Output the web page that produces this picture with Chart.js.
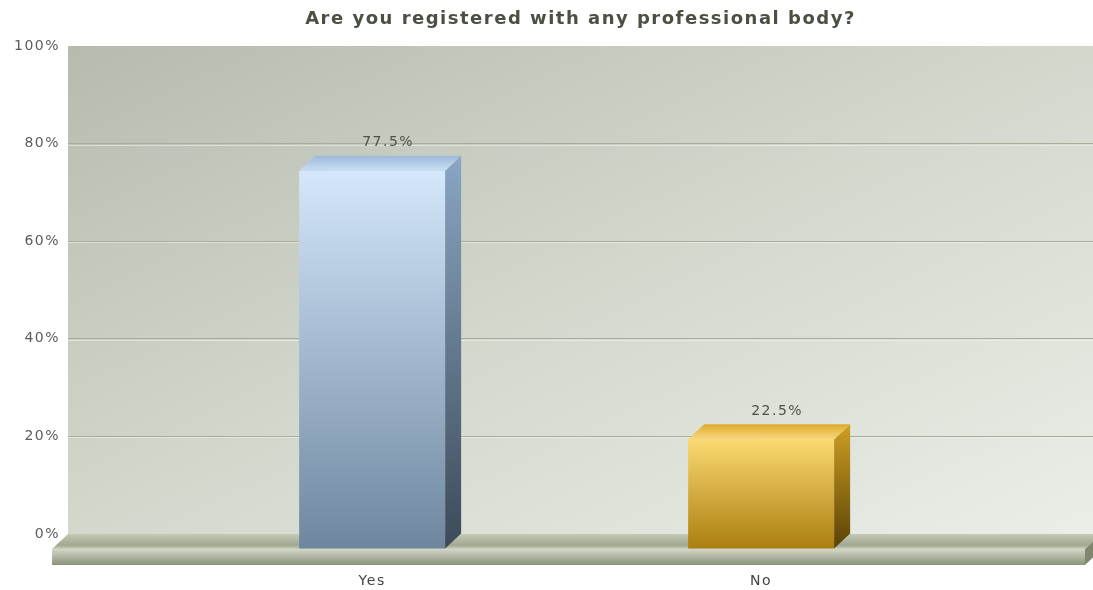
<!DOCTYPE html>
<html>
<head>
<meta charset="utf-8">
<script src="https://cdn.jsdelivr.net/npm/chart.js@4"></script>
<style>
  html, body { margin: 0; background: #fff; }
  #wrap { width: 1093px; height: 590px; }
</style>
</head>
<body>
<div id="wrap"><canvas id="chart"></canvas></div>
<script>
const categories = ["Yes", "No"];
const percentages = [77.5, 22.5];
const yTicks = [0, 20, 40, 60, 80, 100];

// depth of the extruded bars and floor, in pixels
const DX = 16;
const DY = 15;
const FLOOR_H = 16;
const FONT = "DejaVu Sans";

const barStyles = [
  { front: ["#d4e7fb", "#6e879f"], side: ["#8aa6c3", "#3c4a58"], top: ["#9dbadb", "#c9def4"] },
  { front: ["#fbd972", "#ab7e0f"], side: ["#cf9f24", "#5a4205"], top: ["#dfab2c", "#f8d67e"] },
];

function vGrad(ctx, y0, y1, c0, c1) {
  const g = ctx.createLinearGradient(0, y0, 0, y1);
  g.addColorStop(0, c0);
  g.addColorStop(1, c1);
  return g;
}

function poly(ctx, pts, fill) {
  ctx.beginPath();
  ctx.moveTo(pts[0][0], pts[0][1]);
  for (let i = 1; i < pts.length; i++) ctx.lineTo(pts[i][0], pts[i][1]);
  ctx.closePath();
  ctx.fillStyle = fill;
  ctx.fill();
}

const bars3d = {
  id: "bars3d",
  beforeDraw(chart) {
    const { ctx, chartArea: a } = chart;
    ctx.letterSpacing = "1.5px";
    const w = a.right - a.left, h = a.bottom - a.top;
    const s = (2 * w * h) / (w * w + h * h);
    const g = ctx.createLinearGradient(a.left, a.top, a.left + h * s, a.top + w * s);
    g.addColorStop(0, "#b7bbaf");
    g.addColorStop(0.5, "#d3d8cd");
    g.addColorStop(1, "#eaeee7");
    ctx.save();
    ctx.fillStyle = g;
    ctx.fillRect(a.left, a.top, w, h);
    ctx.restore();
  },
  beforeDatasetsDraw(chart) {
    const { ctx, chartArea: a } = chart;
    const yScale = chart.scales.y;
    const B = yScale.getPixelForValue(0);
    const L = a.left, R = a.right + 8;
    ctx.save();
    // faint highlight under each grid line
    ctx.fillStyle = "rgba(240,243,236,0.6)";
    yTicks.slice(1, -1).forEach((v) => {
      ctx.fillRect(L, Math.round(yScale.getPixelForValue(v)) + 1, a.right - L, 1);
    });
    const top = ctx.createLinearGradient(0, B, 0, B + DY);
    top.addColorStop(0, "#c4c9b8");
    top.addColorStop(0.75, "#a1a890");
    top.addColorStop(1, "#cdd2c1");
    poly(ctx, [[L, B], [R, B], [R - DX, B + DY], [L - DX, B + DY]], top);
    ctx.fillStyle = vGrad(ctx, B + DY, B + DY + FLOOR_H, "#d2d7c7", "#8a927a");
    ctx.fillRect(L - DX, B + DY, R - L, FLOOR_H);
    poly(ctx, [[R - DX, B + DY], [R, B], [R, B + FLOOR_H], [R - DX, B + DY + FLOOR_H]], "#7f876f");
    ctx.restore();
  },
  afterDatasetsDraw(chart) {
    const { ctx } = chart;
    const meta = chart.getDatasetMeta(0);
    ctx.save();
    meta.data.forEach((el, i) => {
      const { x, y, base, width } = el.getProps(["x", "y", "base", "width"], true);
      const st = barStyles[i];
      const bl = x - width / 2, br = x + width / 2;
      const fl = bl - DX, fr = br - DX, ft = y + DY, fb = base + DY;
      ctx.fillStyle = vGrad(ctx, ft, fb, st.front[0], st.front[1]);
      ctx.fillRect(fl, ft, fr - fl, fb - ft);
      poly(ctx, [[fr, ft], [br, y], [br, base], [fr, fb]], vGrad(ctx, y, fb, st.side[0], st.side[1]));
      poly(ctx, [[fl, ft], [fr, ft], [br, y], [bl, y]], vGrad(ctx, y, ft, st.top[0], st.top[1]));

      ctx.font = `14px "${FONT}"`;
      ctx.fillStyle = "#4e534a";
      ctx.textAlign = "center";
      ctx.textBaseline = "middle";
      ctx.fillText(percentages[i].toFixed(1) + "%", x, y - 13);
    });
    ctx.restore();
  },
};

new Chart(document.getElementById("chart"), {
  type: "bar",
  data: {
    datasets: [
      {
        data: percentages.map((v, i) => ({ x: i, y: v })),
        backgroundColor: "rgba(0,0,0,0)",
        borderWidth: 0,
        barThickness: 146,
      },
    ],
  },
  options: {
    responsive: true,
    maintainAspectRatio: false,
    animation: false,
    devicePixelRatio: 1,
    events: [],
    layout: { padding: 0 },
    plugins: {
      legend: { display: false },
      tooltip: { enabled: false },
      title: {
        display: true,
        fullSize: false,
        text: "Are you registered with any professional body?",
        color: "#4a5043",
        font: { family: FONT, size: 18, weight: "bold", lineHeight: 1.2 },
        padding: { top: 9, bottom: 15.4 },
      },
    },
    scales: {
      x: {
        type: "linear",
        offset: false,
        bounds: "data",
        min: -0.823,
        max: 1.812,
        grid: { display: false, drawTicks: false },
        border: { display: false },
        afterBuildTicks(s) { s.ticks = categories.map((c, i) => ({ value: i })); },
        afterFit(s) { s.height = 56; },
        ticks: {
          callback: (v) => categories[v],
          labelOffset: -16,
          padding: 39,
          maxRotation: 0,
          autoSkip: false,
          color: "#444444",
          font: { family: FONT, size: 14 },
        },
      },
      y: {
        min: 0,
        max: 100,
        grid: {
          drawTicks: false,
          color: (c) => (c.tick && (c.tick.value === 0 || c.tick.value === 100) ? "rgba(0,0,0,0)" : "#a6ad98"),
        },
        border: { display: false },
        afterBuildTicks(s) { s.ticks = yTicks.map((v) => ({ value: v })); },
        afterFit(s) { s.width = 68; },
        ticks: {
          callback: (v) => v + "%",
          padding: 8,
          color: "#5c5c5c",
          font: { family: FONT, size: 14 },
        },
      },
    },
  },
  plugins: [bars3d],
});
</script>
</body>
</html>
